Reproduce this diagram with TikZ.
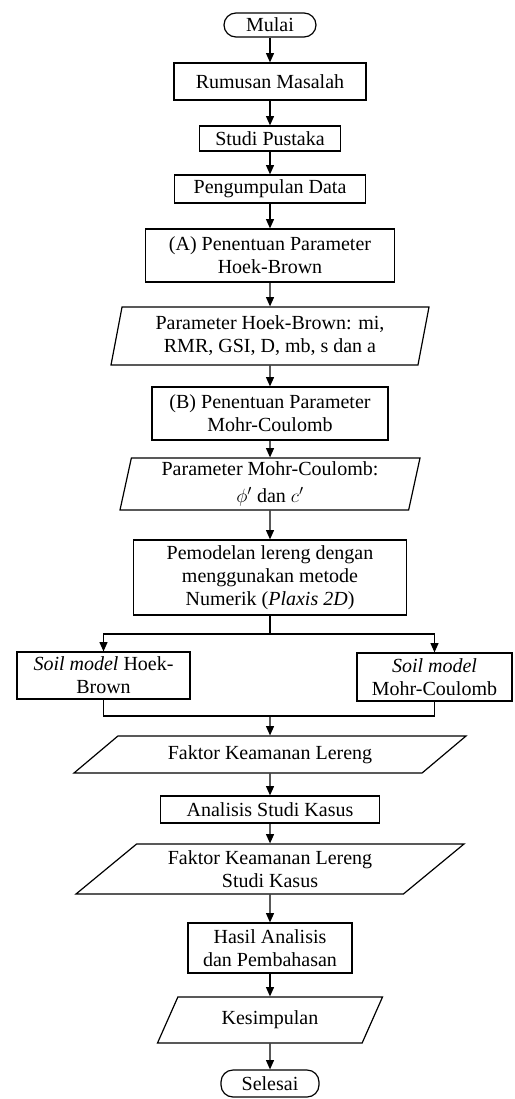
\documentclass[tikz,border=0pt]{standalone}
\usepackage{fontspec}
\setmainfont{Liberation Serif}
\usetikzlibrary{shapes.geometric,arrows.meta}

\begin{document}
\begin{tikzpicture}[x=0.75pt,y=-0.75pt,line width=0.9pt]
        \tikzset{every node/.style={font=\fontsize{15}{17.3}\selectfont, align=center, inner sep=1pt},
            proses/.style={draw, rectangle},
            terminal/.style={draw, rectangle, rounded corners=9pt},
            masukan/.style 2 args={draw, trapezium, trapezium left angle=#1,
                trapezium right angle=#2, trapezium stretches body},
            ukuran/.style 2 args={minimum width=#1*0.75pt, minimum height=#2*0.75pt},
            panah/.style={draw, -{Triangle[length=7pt,width=6pt]}}}
        \useasboundingbox (0,0) rectangle (514,1099);

        \node[terminal, ukuran={92}{24}] (mulai) at (270,25) {Mulai};
        \node[proses, ukuran={192}{37}] (rumusan) at (270,81.5) {Rumusan Masalah};
        \node[proses, ukuran={141}{25}] (pustaka) at (270,138.5) {Studi Pustaka};
        \node[proses, ukuran={191}{28}] (pengumpulan) at (270,189) {Pengumpulan Data};
        \node[proses, ukuran={249}{53}] (penentuanhb) at (270,255.5)
            {(A) Penentuan Parameter\\Hoek-Brown};
        \node[masukan={75.5}{104.5}, ukuran={318}{58}] (parhb) at (270,336)
            {Parameter Hoek-Brown: mi,\\RMR, GSI, D, mb, s dan a};
        \node[proses, ukuran={236}{53}] (penentuanmc) at (270,413.5)
            {(B) Penentuan Parameter\\Mohr-Coulomb};
        \node[masukan={76.5}{103.5}, ukuran={300}{52}] (parmc) at (270,484)
            {Parameter Mohr-Coulomb:\\[3pt]$\phi'$ dan $c'$};
        \node[proses, ukuran={273}{75}] (pemodelan) at (270,577.5)
            {Pemodelan lereng dengan\\menggunakan metode\\Numerik (\textit{Plaxis 2D})};
        \node[proses, ukuran={173}{47}] (soilhb) at (103.5,675.5)
            {\textit{Soil model} Hoek-\\Brown};
        \node[proses, ukuran={155}{48}] (soilmc) at (434.5,677)
            {\textit{Soil model}\\Mohr-Coulomb};
        \node[masukan={25.4}{154.6}, ukuran={392}{37}] (fkl) at (270,754.5)
            {Faktor Keamanan Lereng};
        \node[proses, ukuran={219}{27}] (analisis) at (270,809.5) {Analisis Studi Kasus};
        \node[masukan={33.3}{146.7}, ukuran={388}{50}] (fklkasus) at (270,869)
            {Faktor Keamanan Lereng\\Studi Kasus};
        \node[proses, ukuran={164}{50}] (hasil) at (270,948)
            {Hasil Analisis\\dan Pembahasan};
        \node[masukan={45.6}{134.4}, ukuran={225}{46}] (kesimpulan) at (270,1020) {Kesimpulan};
        \node[terminal, ukuran={98}{27}] (selesai) at (270,1083.5) {Selesai};

        \coordinate (cabang) at (270,634);
        \coordinate (gabung) at (270,716);

        \foreach \a/\b in {mulai/rumusan, rumusan/pustaka, pustaka/pengumpulan,
            pengumpulan/penentuanhb, penentuanhb/parhb, parhb/penentuanmc,
            penentuanmc/parmc, parmc/pemodelan, gabung/fkl, fkl/analisis,
            analisis/fklkasus, fklkasus/hasil, hasil/kesimpulan, kesimpulan/selesai}
            \draw[panah] (\a) -- (\b);
        \draw (pemodelan) -- (cabang);
        \draw[panah] (cabang) -| (soilhb);
        \draw[panah] (cabang) -| (soilmc);
        \draw (soilhb) |- (gabung) -| (soilmc);
    \end{tikzpicture}
\end{document}
